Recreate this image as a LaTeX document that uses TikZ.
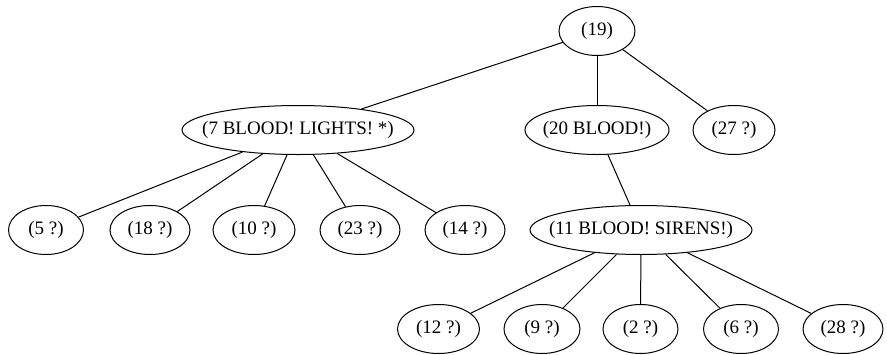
\documentclass[tikz,border=0pt]{standalone}
\usepackage{fontspec}
\setmainfont{Liberation Serif}
\usetikzlibrary{shapes.geometric}
\newcommand{\ctext}[1]{\makebox[0pt][c]{#1}}
\begin{document}
\begin{tikzpicture}[x=1pt,y=-1pt,
  nd/.style={draw,ellipse,line width=1pt,inner sep=0pt,minimum height=49pt,font=\fontsize{19}{21}\selectfont},
  edge/.style={line width=1pt}]
\useasboundingbox (0,0) rectangle (887,354);
\node[nd,minimum width=76pt] (n19) at (597,31) {\ctext{(19)}};
\node[nd,minimum width=232pt] (n7) at (298,130) {\ctext{(7 BLOOD! LIGHTS! *)}};
\node[nd,minimum width=144pt] (n20) at (597,130) {\ctext{(20 BLOOD!)}};
\node[nd,minimum width=82pt] (n27) at (734,130) {\ctext{(27 ?)}};
\node[nd,minimum width=75pt] (n5) at (46,230) {\ctext{(5 ?)}};
\node[nd,minimum width=80pt] (n18) at (150,230) {\ctext{(18 ?)}};
\node[nd,minimum width=82pt] (n10) at (254,230) {\ctext{(10 ?)}};
\node[nd,minimum width=80pt] (n23) at (360,230) {\ctext{(23 ?)}};
\node[nd,minimum width=80pt] (n14) at (465,230) {\ctext{(14 ?)}};
\node[nd,minimum width=222pt] (n11) at (641,230) {\ctext{(11 BLOOD! SIRENS!)}};
\node[nd,minimum width=82pt] (n12) at (438.5,329) {\ctext{(12 ?)}};
\node[nd,minimum width=76pt] (n9) at (542,329) {\ctext{(9 ?)}};
\node[nd,minimum width=75pt] (n2) at (640.5,329) {\ctext{(2 ?)}};
\node[nd,minimum width=75pt] (n6) at (741,329) {\ctext{(6 ?)}};
\node[nd,minimum width=80pt] (n28) at (843,329) {\ctext{(28 ?)}};
\foreach \a/\b in {n19/n7,n19/n20,n19/n27,n7/n5,n7/n18,n7/n10,n7/n23,n7/n14,n20/n11,n11/n12,n11/n9,n11/n2,n11/n6,n11/n28}
  \draw[edge] (\a) -- (\b);
\end{tikzpicture}
\end{document}
